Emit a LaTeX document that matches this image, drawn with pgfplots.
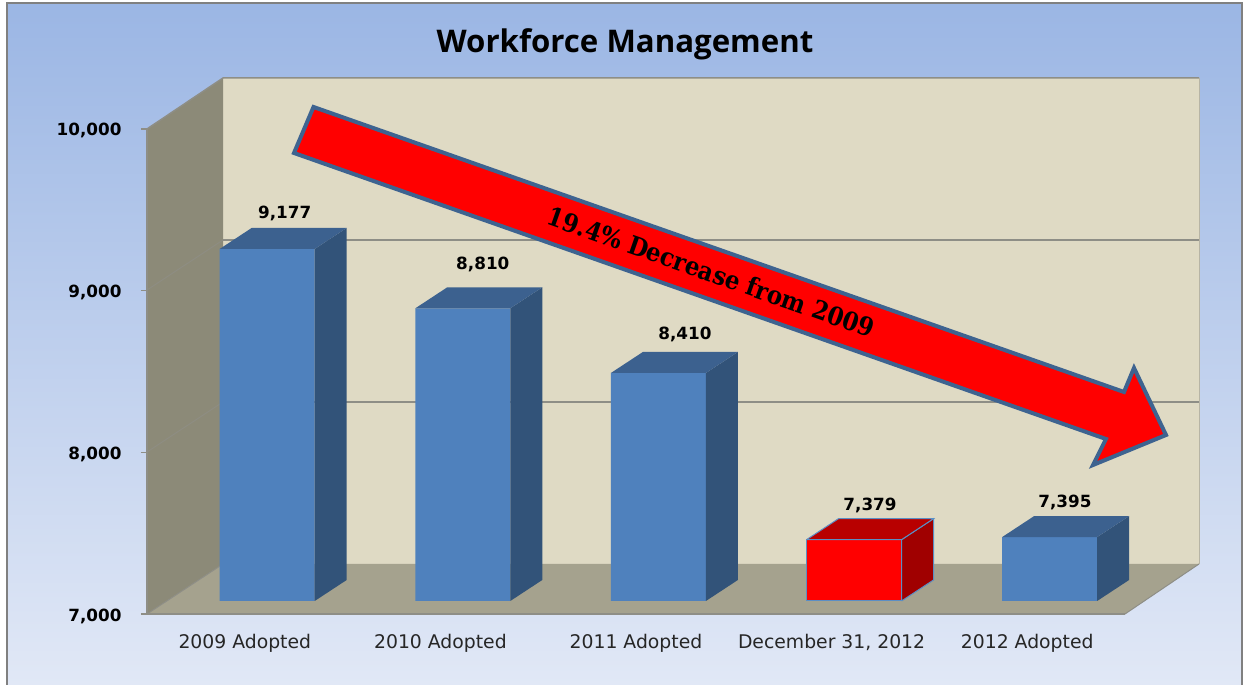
\documentclass[border=0pt]{standalone}
\usepackage{fontspec}
\setmainfont{DejaVu Sans}
\newfontfamily\titlef{Open Sans}
\newfontfamily\serifb{DejaVu Serif Condensed}
\usepackage{pgfplots}
\pgfplotsset{compat=1.18}
\definecolor{wall}{HTML}{DFDAC4}
\definecolor{lwall}{HTML}{8C8A78}
\definecolor{floorc}{HTML}{A5A28E}
\definecolor{edgec}{HTML}{8E8E86}
\definecolor{barf}{HTML}{4F81BD}
\definecolor{bars}{HTML}{325379}
\definecolor{bart}{HTML}{3C618F}
\definecolor{redt}{HTML}{B80000}
\definecolor{reds}{HTML}{A00000}
\definecolor{redl}{HTML}{5B8EC4}
\definecolor{arrowl}{HTML}{3E6390}
\definecolor{bgtop}{HTML}{9BB6E4}
\definecolor{bgbot}{HTML}{E1E8F6}
\begin{document}
\begin{tikzpicture}[x=1pt,y=1pt]
\useasboundingbox (0,0) rectangle (1243,685);
\fill[white] (0,0) rectangle (1243,685);
\shade[top color=bgtop,bottom color=bgbot] (7,0) rectangle (1242,682);
\draw[gray,line width=2pt] (7,0) -- (7,682) -- (1242,682) -- (1242,0);
% walls and floor, in picture coordinates (x, 685-y)
\fill[wall] (223,121) rectangle (1199,607);
\fill[lwall] (147,556) -- (223,607) -- (223,121) -- (147,71) -- cycle;
\fill[floorc] (147,71) -- (223,121) -- (1199,121) -- (1125,71) -- cycle;
\draw[edgec,line width=1.5pt] (147,556) -- (223,607) -- (1199,607);
\draw[edgec,line width=1.2pt] (223,445) -- (1199,445);
\draw[edgec,line width=1.2pt] (223,283) -- (1199,283);
\draw[edgec!70!lwall,line width=1pt] (147,395) -- (223,445);
\draw[edgec!70!lwall,line width=1pt] (147,233) -- (223,283);
\draw[edgec,line width=1pt] (147,71) -- (223,121);
\draw[edgec!50!wall,line width=1pt] (1199,121) -- (1199,607);
\draw[edgec,line width=1pt] (1125,71) -- (1199,121);
\node[font=\titlef\bfseries\fontsize{31.2}{36}\selectfont,text=black] at (625,641) {Workforce Management};
\begin{axis}[
  at={(147pt,71pt)}, anchor=south west,
  x=195.6pt, y=0.1617pt,
  xmin=-0.5, xmax=4.5, ymin=7000, ymax=10000,
  clip=false,
  axis x line*=bottom, axis y line*=left,
  axis line style={edgec,line width=1.8pt,-},
  /pgf/number format/assume math mode=true,
  scaled y ticks=false,
  xtick={0,1,2,3,4},
  xticklabels={2009 Adopted,2010 Adopted,2011 Adopted,{December 31, 2012},2012 Adopted},
  ytick={7000,8000,9000,10000},
  x tick style={draw=none},
  y tick style={edgec,line width=1.5pt},
  major tick length=6pt,
  tick align=outside,
  x tick label style={font=\fontsize{18.8}{22}\selectfont,text=black!85,yshift=-11pt},
  y tick label style={font=\fontsize{16.8}{20}\selectfont\bfseries,xshift=-16pt,yshift=-2pt},
  nodes near coords style={font=\fontsize{16.8}{20}\selectfont\bfseries,anchor=center},
  every axis plot/.append style={xshift=22.4pt,yshift=13pt},
]
% front faces
\addplot[ybar,bar width=95pt,bar shift=0pt,fill=barf,draw=none,forget plot] coordinates {(0,9177) (1,8810) (2,8410) (4,7395)};
\addplot[ybar,bar width=95pt,bar shift=0pt,fill=red,draw=redl,line width=1pt,forget plot] coordinates {(3,7379)};
% side faces
\addplot[fill=bars,draw=none] coordinates {(0.2429,7000) (0.2429,9177) (0.4065,9307) (0.4065,7130)};
\addplot[fill=bars,draw=none] coordinates {(1.2429,7000) (1.2429,8810) (1.4065,8940) (1.4065,7130)};
\addplot[fill=bars,draw=none] coordinates {(2.2429,7000) (2.2429,8410) (2.4065,8540) (2.4065,7130)};
\addplot[fill=reds,draw=redl,line width=1pt] coordinates {(3.2429,7000) (3.2429,7379) (3.4065,7509) (3.4065,7130) (3.2429,7000)};
\addplot[fill=bars,draw=none] coordinates {(4.2429,7000) (4.2429,7395) (4.4065,7525) (4.4065,7130)};
% top faces
\addplot[fill=bart,draw=none] coordinates {(-0.2429,9177) (0.2429,9177) (0.4065,9307) (-0.0793,9307)};
\addplot[fill=bart,draw=none] coordinates {(0.7571,8810) (1.2429,8810) (1.4065,8940) (0.9207,8940)};
\addplot[fill=bart,draw=none] coordinates {(1.7571,8410) (2.2429,8410) (2.4065,8540) (1.9207,8540)};
\addplot[fill=redt,draw=redl,line width=1pt] coordinates {(2.7571,7379) (3.2429,7379) (3.4065,7509) (2.9207,7509) (2.7571,7379)};
\addplot[fill=bart,draw=none] coordinates {(3.7571,7395) (4.2429,7395) (4.4065,7525) (3.9207,7525)};
% value labels
\addplot[draw=none,nodes near coords,every node near coord/.append style={xshift=17.5pt,yshift=36pt}] coordinates {(0,9177)};
\addplot[draw=none,nodes near coords,every node near coord/.append style={xshift=20pt,yshift=44pt}] coordinates {(1,8810)};
\addplot[draw=none,nodes near coords,every node near coord/.append style={xshift=26.5pt,yshift=39pt}] coordinates {(2,8410)};
\addplot[draw=none,nodes near coords,every node near coord/.append style={xshift=16pt,yshift=34.5pt}] coordinates {(3,7379)};
\addplot[draw=none,nodes near coords,every node near coord/.append style={xshift=15.3pt,yshift=34.5pt}] coordinates {(4,7395)};
\end{axis}
% annotation arrow
\draw[arrowl,fill=red,line width=4pt,miter limit=4,line join=miter]
  (313.5,578) -- (1124,293) -- (1134,317) -- (1166,250) -- (1093,220) -- (1106,246) -- (294,532) -- cycle;
\node[rotate=-19.4,font=\serifb\bfseries\fontsize{25.5}{28}\selectfont,text=black] at (711,413) {19.4\% Decrease from 2009};
\end{tikzpicture}
\end{document}
